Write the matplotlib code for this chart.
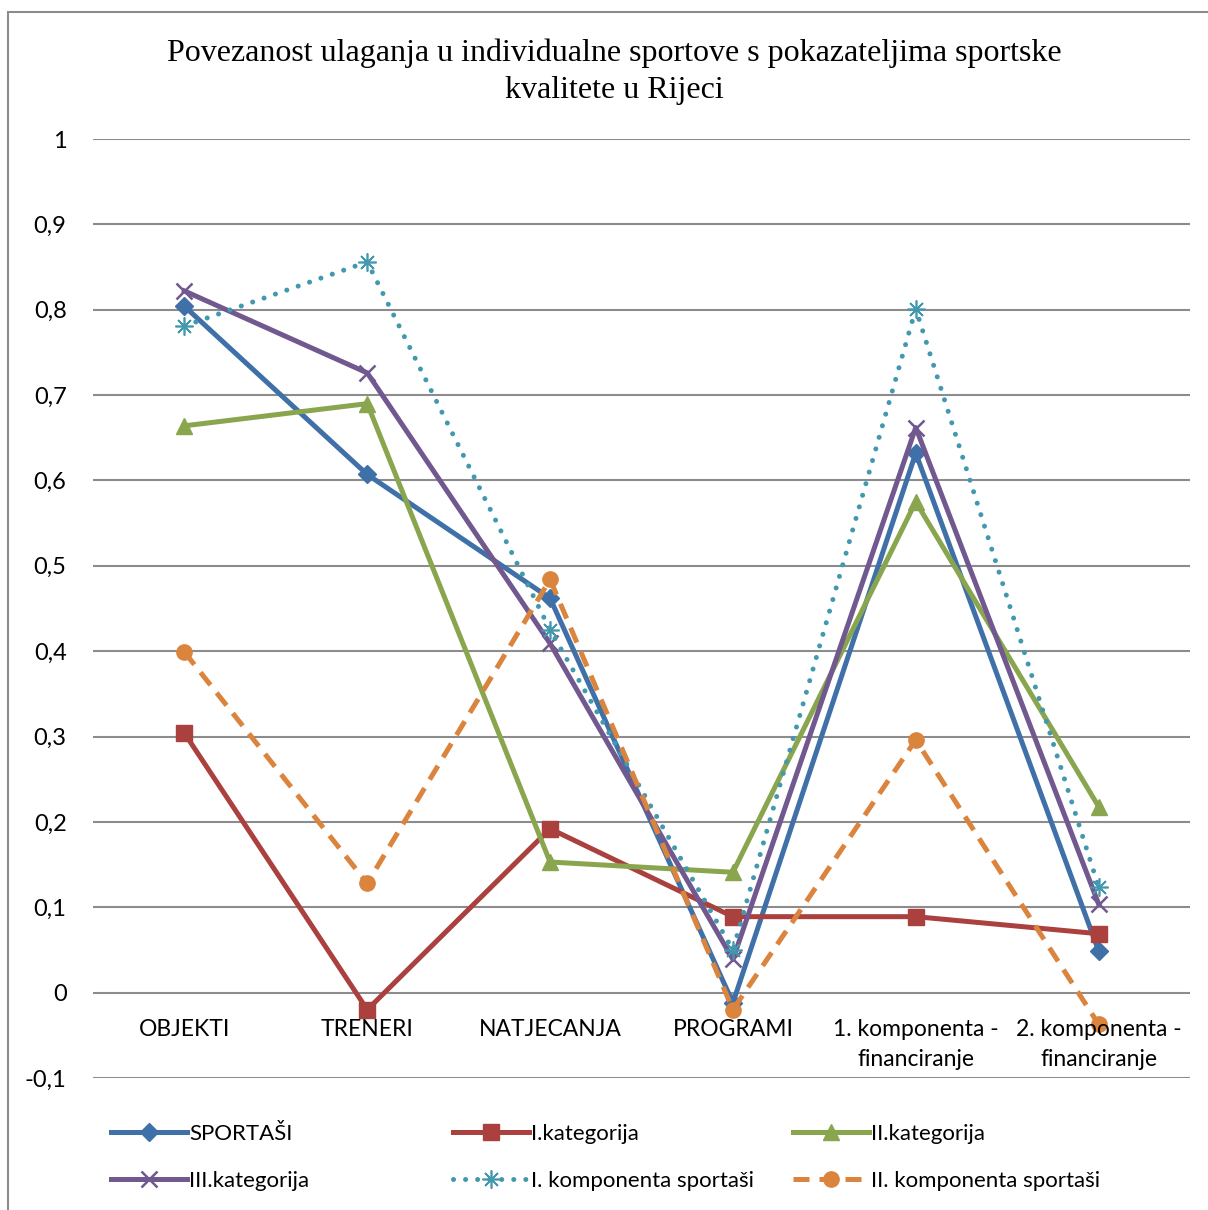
import matplotlib.pyplot as plt
from matplotlib.patches import Rectangle

# Podaci ocitani s grafikona
kategorije = ["OBJEKTI", "TRENERI", "NATJECANJA", "PROGRAMI",
              "1. komponenta -\nfinanciranje", "2. komponenta -\nfinanciranje"]
sportasi = [0.804, 0.607, 0.462, -0.012, 0.632, 0.049]
i_kategorija = [0.304, -0.020, 0.192, 0.089, 0.089, 0.069]
ii_kategorija = [0.664, 0.690, 0.153, 0.141, 0.575, 0.218]
iii_kategorija = [0.822, 0.726, 0.409, 0.039, 0.662, 0.104]
i_komponenta = [0.781, 0.856, 0.425, 0.050, 0.801, 0.124]
ii_komponenta = [0.399, 0.128, 0.484, -0.020, 0.296, -0.037]
y_ticks = [-0.1, 0, 0.1, 0.2, 0.3, 0.4, 0.5, 0.6, 0.7, 0.8, 0.9, 1]
y_labels = ["-0,1", "0", "0,1", "0,2", "0,3", "0,4", "0,5", "0,6", "0,7", "0,8", "0,9", "1"]

plt.rcParams['font.family'] = ['Lato', 'DejaVu Sans']

fig = plt.figure(figsize=(12.08, 12.10), dpi=100)
# okvir oko grafikona
fig.patches.append(Rectangle((8 / 1208, -0.1), 1.2, 1 - 12 / 1210 + 0.1, transform=fig.transFigure,
                             fill=False, edgecolor='#8c8c8c', linewidth=1.5))
ax = fig.add_axes([93 / 1208, 1 - 1078 / 1210, (1190 - 93) / 1208, (1078 - 139) / 1210])

x = list(range(len(kategorije)))
lw = 3.6
serije = [
    ("SPORTAŠI", sportasi, dict(color='#4070A8', marker='D', markersize=9)),
    ("I.kategorija", i_kategorija, dict(color='#AA413E', marker='s', markersize=11)),
    ("II.kategorija", ii_kategorija, dict(color='#89A54E', marker='^', markersize=12)),
    ("III.kategorija", iii_kategorija, dict(color='#71588F', marker='x', markersize=11, markeredgewidth=1.8)),
    ("I. komponenta sportaši", i_komponenta, dict(color='#4198AF', marker=(8, 2, 0), markersize=13,
                                                  markeredgewidth=1.2, linestyle=(0, (0.01, 2.4)),
                                                  dash_capstyle='round')),
    ("II. komponenta sportaši", ii_komponenta, dict(color='#DB843D', marker='o', markersize=11,
                                                    linestyle=(0, (3.2, 2.0)))),
]

handles = []
for naziv, vrijednosti, stil in serije:
    h, = ax.plot(x, vrijednosti, linewidth=lw, label=naziv, **stil)
    handles.append(h)

ax.set_xlim(-0.5, 5.5)
ax.set_ylim(-0.1, 1)
ax.set_yticks(y_ticks)
ax.set_yticklabels(y_labels, fontsize=17)
ax.grid(axis='y', color='#8c8c8c', linewidth=1.5)
ax.set_axisbelow(True)
ax.tick_params(axis='y', length=0, pad=19)
ax.set_xticks([])
for s in ax.spines.values():
    s.set_visible(False)

# oznake kategorija ispod linije 0
for i, k in enumerate(kategorije):
    ax.text(i, -0.031, k, ha='center', va='top', fontsize=16.5, linespacing=1.55)

fig.text(614 / 1208, 1 - 39 / 1210, "Povezanost ulaganja u individualne sportove s pokazateljima sportske\nkvalitete u Rijeci",
         ha='center', va='top', fontsize=23, family='Liberation Serif', linespacing=1.32)

# legenda u tri stupca
pozicije = [100 / 1208, 442 / 1208, 782 / 1208]
for c in range(3):
    fig.legend([handles[c], handles[c + 3]], [handles[c].get_label(), handles[c + 3].get_label()],
               loc='upper left', bbox_to_anchor=(pozicije[c], 1 - 1113 / 1210), frameon=False,
               fontsize=16, handlelength=3.4, handletextpad=0.1, labelspacing=1.2, borderpad=0)

fig.savefig("out.png", dpi=100)
